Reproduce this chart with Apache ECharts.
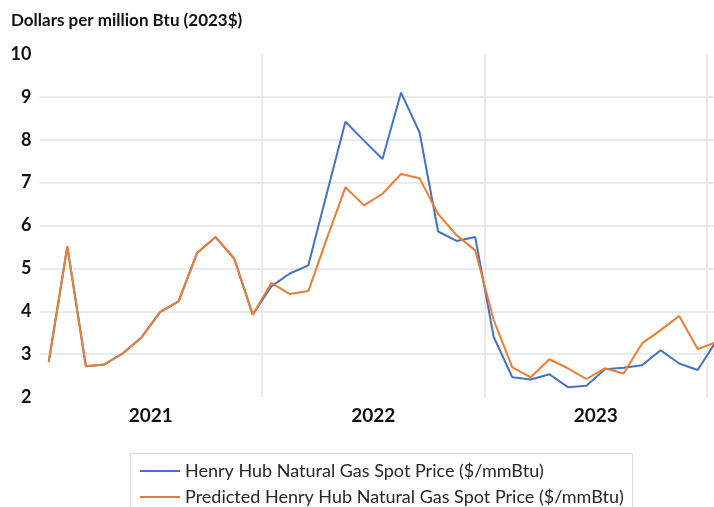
<!DOCTYPE html>
<html>
<head>
<meta charset="utf-8">
<script src="https://cdn.jsdelivr.net/npm/echarts@6/dist/echarts.min.js"></script>
<style>
html,body{margin:0;padding:0;background:#fff;}
#chart{width:714px;height:507px;}
</style>
</head>
<body>
<div id="chart"></div>
<script>
// Monthly categories Jan 2021 .. Jan 2024 (last one is cut at the right edge)
const months = [
  '2021-01','2021-02','2021-03','2021-04','2021-05','2021-06','2021-07','2021-08','2021-09','2021-10','2021-11','2021-12',
  '2022-01','2022-02','2022-03','2022-04','2022-05','2022-06','2022-07','2022-08','2022-09','2022-10','2022-11','2022-12',
  '2023-01','2023-02','2023-03','2023-04','2023-05','2023-06','2023-07','2023-08','2023-09','2023-10','2023-11','2023-12',
  '2024-01'
];
const henryHub = [
  2.82, 5.51, 2.72, 2.76, 3.02, 3.39, 3.98, 4.23, 5.36, 5.73, 5.23, 3.92,
  4.58, 4.88, 5.07, 6.75, 8.42, 7.98, 7.55, 9.10, 8.17, 5.86, 5.64, 5.73,
  3.40, 2.46, 2.41, 2.53, 2.23, 2.26, 2.65, 2.68, 2.74, 3.09, 2.78, 2.63,
  3.30
];
const predicted = [
  2.82, 5.51, 2.72, 2.76, 3.02, 3.39, 3.98, 4.23, 5.36, 5.73, 5.23, 3.92,
  4.66, 4.40, 4.47, 5.70, 6.89, 6.47, 6.74, 7.20, 7.10, 6.27, 5.77, 5.42,
  3.79, 2.69, 2.46, 2.88, 2.67, 2.42, 2.67, 2.55, 3.25, 3.56, 3.89, 3.12,
  3.28
];
const seriesNames = [
  'Henry Hub Natural Gas Spot Price ($/mmBtu)',
  'Predicted Henry Hub Natural Gas Spot Price ($/mmBtu)'
];
const yAxisTitle = 'Dollars per million Btu (2023$)';

const FONT = 'Lato, "Open Sans", sans-serif';
const chart = echarts.init(document.getElementById('chart'), null, {renderer: 'canvas'});
chart.setOption({
  animation: false,
  backgroundColor: '#ffffff',
  grid: {left: 39.5, top: 54, bottom: 110, width: 686, containLabel: false, outerBoundsMode: 'none'},
  xAxis: {
    type: 'category',
    data: months,
    boundaryGap: true,
    axisLine: {show: false},
    axisTick: {show: false},
    axisLabel: {
      interval: function (idx) { return idx % 12 === 6; },
      formatter: function (v) { return v.slice(0, 4); },
      fontFamily: FONT, fontSize: 19, fontWeight: 'bold', color: '#111',
      padding: [0, 18.5, 0, 0],
      margin: 9
    },
    splitLine: {
      show: true,
      interval: function (idx) { return idx > 0 && idx % 12 === 0; },
      lineStyle: {color: '#e3e3e3', width: 1.5}
    }
  },
  yAxis: {
    type: 'value',
    min: 2, max: 10, interval: 1,
    axisLine: {show: false},
    axisTick: {show: false},
    axisLabel: {fontFamily: FONT, fontSize: 18, fontWeight: 'bold', color: '#111', margin: 8},
    splitLine: {show: true, showMinLine: false, showMaxLine: false, lineStyle: {color: '#e3e3e3', width: 1.5}}
  },
  legend: {
    orient: 'vertical',
    left: 140, top: 462, height: 120, width: 560,
    padding: 0,
    itemGap: 8,
    itemWidth: 40, itemHeight: 2,
    icon: 'rect',
    textStyle: {fontFamily: FONT, fontSize: 18, color: '#262626'},
    data: seriesNames
  },
  graphic: [
    {type: 'text', left: 11, top: 12, style: {text: yAxisTitle, font: 'bold 17px Lato, sans-serif', fill: '#111'}},
    {type: 'rect', shape: {x: 130.5, y: 453.5, width: 502, height: 80}, style: {fill: 'none', stroke: '#dadada', lineWidth: 1}, z: -1}
  ],
  series: [
    {name: seriesNames[0], type: 'line', data: henryHub, symbol: 'none', lineStyle: {color: '#4472C4', width: 2}, itemStyle: {color: '#4472C4'}, z: 2},
    {name: seriesNames[1], type: 'line', data: predicted, symbol: 'none', lineStyle: {color: '#ED7D31', width: 2}, itemStyle: {color: '#ED7D31'}, z: 3}
  ]
});
</script>
</body>
</html>
